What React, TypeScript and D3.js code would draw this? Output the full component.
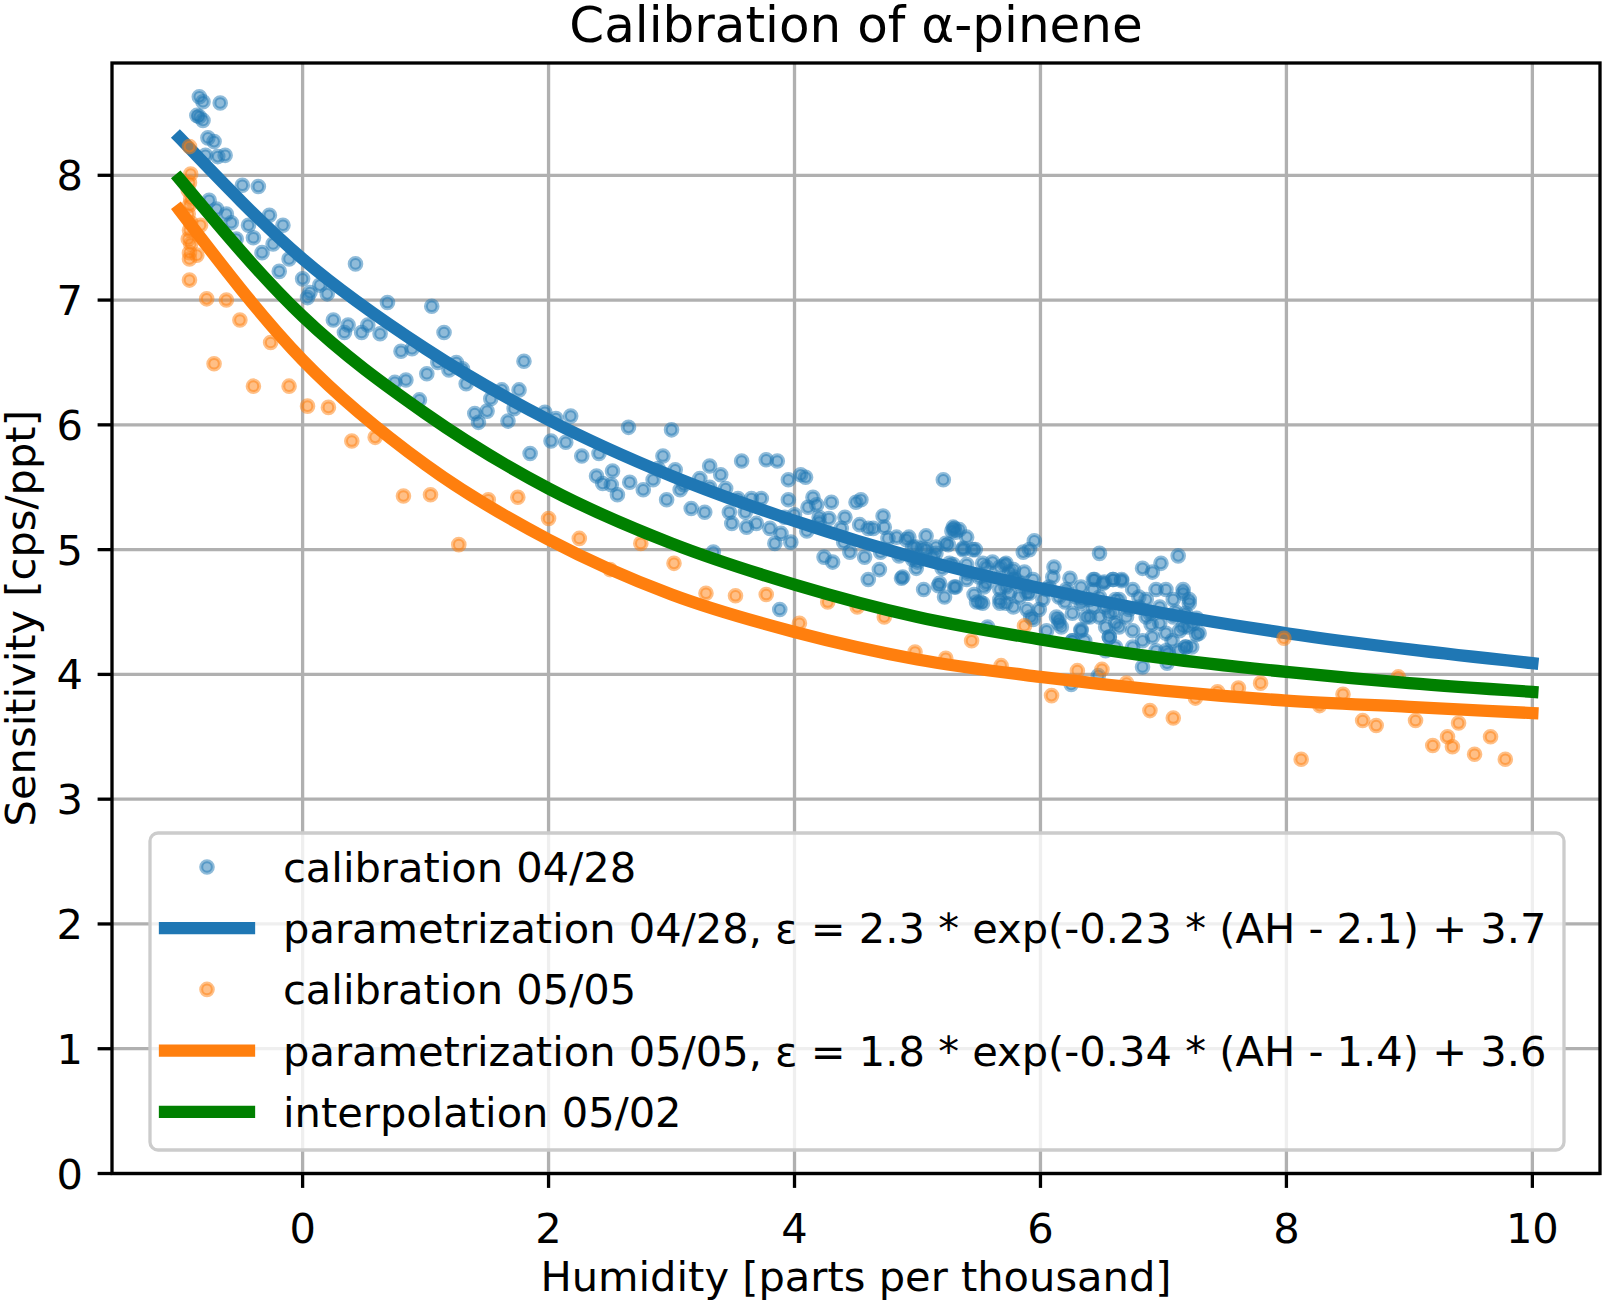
import React from 'react';
import * as d3 from 'd3';

// calibration 04/28: [humidity, sensitivity]
const cal0428: [number, number][] = [
  [-0.84, 8.63], [-0.81, 8.59], [-0.67, 8.58], [-0.86, 8.48], [-0.84, 8.47], [-0.81, 8.44],
  [-0.77, 8.3], [-0.72, 8.27], [-0.79, 8.16], [-0.69, 8.15], [-0.63, 8.16], [-0.49, 7.92],
  [-0.36, 7.91], [-0.76, 7.8], [-0.7, 7.73], [-0.62, 7.69], [-0.58, 7.62], [-0.44, 7.6],
  [-0.27, 7.68], [-0.16, 7.6], [-0.54, 7.49], [-0.4, 7.5], [-0.24, 7.45], [-0.33, 7.38],
  [-0.11, 7.33], [-0.19, 7.23], [0.0, 7.17], [0.43, 7.29], [0.14, 7.12], [0.06, 7.06],
  [0.04, 7.02], [0.2, 7.05], [0.69, 6.98], [1.05, 6.95], [0.25, 6.84], [0.37, 6.8],
  [0.34, 6.74], [0.48, 6.74], [0.53, 6.8], [0.63, 6.73], [1.15, 6.74], [0.8, 6.59],
  [0.89, 6.61], [1.01, 6.41], [1.19, 6.44], [1.1, 6.5], [1.25, 6.5], [1.33, 6.33],
  [0.75, 6.34], [0.84, 6.36], [0.95, 6.2], [1.4, 6.09], [1.43, 6.02], [1.5, 6.11],
  [1.53, 6.21], [1.62, 6.28], [1.76, 6.28], [1.8, 6.51], [1.67, 6.03], [1.72, 6.13],
  [1.85, 5.77], [1.97, 6.1], [2.02, 5.87], [2.06, 6.05], [1.3, 6.45],
  [2.18, 6.07], [2.65, 5.98], [2.14, 5.86], [2.27, 5.75], [2.39, 5.59], [2.44, 5.53],
  [2.52, 5.63], [2.51, 5.52], [2.56, 5.44], [2.66, 5.54], [2.77, 5.48], [2.41, 5.77],
  [3.0, 5.96], [2.85, 5.56], [2.93, 5.75], [2.89, 5.65], [3.03, 5.64], [2.96, 5.4],
  [3.07, 5.48], [3.16, 5.33], [3.27, 5.3], [3.23, 5.57], [3.31, 5.67], [3.4, 5.6],
  [3.31, 5.5], [3.44, 5.49], [3.34, 4.98], [3.54, 5.41], [3.47, 5.3], [3.49, 5.21],
  [3.61, 5.18], [3.57, 5.71], [3.77, 5.72], [3.86, 5.71], [3.65, 5.41], [3.73, 5.41],
  [3.69, 5.21], [3.8, 5.17], [3.84, 5.05], [3.95, 5.4], [3.95, 5.56], [3.92, 5.26],
  [3.89, 5.13], [3.97, 5.06], [4.0, 5.28], [4.05, 5.6], [4.09, 5.58], [3.88, 4.52],
  [4.15, 5.42], [4.11, 5.34], [4.18, 5.36], [4.3, 5.38], [4.2, 5.26], [4.28, 5.25],
  [4.2, 5.22], [4.24, 4.94], [4.31, 4.9], [4.41, 5.26], [4.38, 5.17], [4.45, 4.98],
  [4.5, 5.38], [4.54, 5.4], [4.53, 5.2], [4.6, 5.17], [4.57, 4.94], [4.6, 4.76],
  [4.64, 5.17], [4.72, 5.27], [4.73, 5.18], [4.69, 4.84], [4.76, 5.09], [4.83, 5.1],
  [4.87, 4.77], [4.93, 5.1], [4.96, 5.02], [4.99, 4.85], [5.07, 5.11], [5.05, 4.68],
  [5.04, 5.01], [5.15, 4.97], [5.21, 5.56], [5.17, 4.71], [5.22, 4.62], [5.25, 5.04],
  [5.29, 5.18], [5.31, 5.14], [5.29, 4.88], [5.31, 4.7], [5.4, 5.1], [5.37, 5.01],
  [5.45, 5.0], [5.41, 4.81], [5.46, 4.64], [5.48, 4.58], [5.56, 4.86], [5.54, 4.7],
  [5.3, 5.17], [5.28, 5.15], [5.34, 5.16], [4.88, 4.78], [5.47, 5.0], [5.51, 4.58],
  [5.67, 4.57], [5.57, 4.38], [5.72, 4.89], [5.86, 4.98], [5.91, 5.0], [5.95, 5.07],
  [5.87, 4.82], [5.79, 4.76], [5.91, 4.65], [5.99, 4.52], [5.92, 4.46], [6.11, 4.86],
  [6.1, 4.78], [6.15, 4.62], [6.13, 4.46], [6.24, 4.77], [6.33, 4.7], [6.26, 4.27],
  [6.48, 4.97], [6.43, 4.76], [6.51, 4.73], [6.59, 4.76], [6.66, 4.76], [6.4, 4.6],
  [6.48, 4.46], [6.56, 4.3], [6.33, 4.35], [6.75, 4.68], [6.83, 4.85], [6.98, 4.89],
  [7.12, 4.95], [6.91, 4.82], [7.02, 4.68], [7.16, 4.65], [7.21, 4.57], [6.83, 4.06],
  [7.03, 4.09], [7.18, 4.22], [6.47, 3.99], [6.25, 3.92],
  [4.91, 5.08], [4.99, 5.02], [5.07, 5.0], [5.15, 5.02], [5.23, 5.05], [5.37, 5.0],
  [4.96, 4.92], [5.12, 4.94], [5.26, 4.89], [5.4, 4.88], [5.53, 4.89], [5.61, 4.9],
  [5.67, 4.86], [5.78, 4.84], [5.18, 4.73], [5.3, 4.7], [5.4, 4.76], [5.56, 4.73],
  [5.67, 4.68], [5.75, 4.65], [5.83, 4.62], [5.53, 4.57], [5.78, 4.54], [5.89, 4.52],
  [6.05, 4.68], [6.22, 4.65], [6.33, 4.57], [6.26, 4.49], [6.37, 4.46], [6.53, 4.54],
  [6.64, 4.6], [6.72, 4.52], [6.61, 4.41], [6.75, 4.35], [6.86, 4.46], [6.97, 4.54],
  [7.08, 4.46], [7.13, 4.35], [6.91, 4.3], [6.75, 4.22], [7.02, 4.19], [6.53, 4.19],
  [6.15, 4.41], [6.05, 4.35], [7.18, 4.46], [6.8, 4.62], [6.43, 4.68],
  [5.71, 4.88], [5.75, 4.82], [6.44, 4.76], [6.52, 4.74], [6.59, 4.76], [6.66, 4.75],
  [5.67, 4.6], [5.72, 4.57], [5.94, 4.44], [6.15, 4.44], [6.17, 4.38], [6.33, 4.36],
  [6.36, 4.27], [6.26, 4.27], [6.56, 4.3], [6.61, 4.22], [7.16, 4.68], [7.21, 4.6],
  [7.27, 4.32], [7.23, 4.22], [6.8, 4.54], [6.89, 4.49], [6.97, 4.41], [7.02, 4.33],
  [7.07, 4.27], [7.16, 4.38], [7.13, 4.19], [6.7, 4.46], [6.61, 4.6], [6.48, 4.62],
  [6.43, 4.54], [6.34, 4.6], [6.29, 4.62], [6.21, 4.68], [6.07, 4.7], [6.02, 4.6],
  [5.89, 4.65], [5.83, 4.73], [5.78, 4.78], [5.72, 4.7], [5.94, 4.76], [6.56, 4.49],
  [6.83, 4.27], [6.94, 4.19], [7.04, 4.17], [7.18, 4.49], [7.08, 4.6], [6.94, 4.68],
  [6.86, 4.6], [7.18, 4.22], [7.24, 4.41], [7.29, 4.33], [6.64, 4.38], [6.53, 4.38],
  [6.4, 4.46], [7.27, 4.45],
  [3.1, 5.52], [3.6, 5.3], [4.1, 5.15], [4.4, 5.06], [4.7, 4.98], [4.85, 4.95],
  [5.0, 4.9], [5.2, 4.85], [5.5, 4.78], [5.9, 4.7], [6.2, 4.58], [6.6, 4.5],
  [6.9, 4.4], [7.1, 4.5], [7.2, 4.38],
];

// calibration 05/05: [humidity, sensitivity]
const cal0505: [number, number][] = [
  [-0.92, 8.23], [-0.91, 8.01], [-0.92, 7.94], [-0.93, 7.88], [-0.91, 7.81], [-0.92, 7.76],
  [-0.93, 7.69], [-0.91, 7.62], [-0.92, 7.56], [-0.93, 7.49], [-0.91, 7.45], [-0.92, 7.38],
  [-0.92, 7.33], [-0.83, 7.6], [-0.86, 7.36], [-0.92, 7.16], [-0.78, 7.01], [-0.62, 7.0],
  [-0.51, 6.84], [-0.26, 6.66], [-0.72, 6.49], [-0.4, 6.31], [-0.11, 6.31], [0.04, 6.15],
  [0.21, 6.14], [0.4, 5.87], [0.59, 5.9],
  [0.82, 5.43], [1.04, 5.44], [1.51, 5.4], [1.75, 5.42], [2.0, 5.25], [2.25, 5.09],
  [1.27, 5.04], [2.75, 5.05], [2.5, 4.84],
  [3.02, 4.89], [3.28, 4.65], [3.52, 4.63], [3.77, 4.64], [4.04, 4.41], [4.27, 4.58],
  [4.51, 4.54], [4.73, 4.46],
  [5.87, 4.39], [5.44, 4.27], [4.98, 4.18], [5.23, 4.13], [5.68, 4.07], [6.3, 4.03],
  [6.5, 4.04], [6.09, 3.83], [6.7, 3.93],
  [7.98, 4.29], [6.89, 3.71], [7.08, 3.65], [7.26, 3.81], [7.44, 3.86], [7.61, 3.89],
  [7.79, 3.93], [8.12, 3.32], [8.27, 3.75], [8.46, 3.84], [8.62, 3.63], [8.73, 3.59],
  [8.91, 3.98], [9.05, 3.63], [9.19, 3.43], [9.31, 3.5], [9.35, 3.42], [9.4, 3.61],
  [9.53, 3.36], [9.66, 3.5], [9.78, 3.32],
];

// fitted / interpolated curves, sampled along humidity
const curveX = [-1, 0, 1, 2, 3, 4, 5, 6, 7, 8, 9, 10];
const fit0428 = [8.3, 7.33, 6.61, 6.04, 5.59, 5.23, 4.93, 4.69, 4.49, 4.33, 4.2, 4.09];
const fit0505 = [7.72, 6.52, 5.68, 5.08, 4.64, 4.34, 4.12, 3.98, 3.87, 3.79, 3.74, 3.69];
const interp0502 = [7.97, 6.87, 6.09, 5.49, 5.05, 4.72, 4.46, 4.28, 4.13, 4.02, 3.93, 3.86];

const xTicks = [0, 2, 4, 6, 8, 10];
const yTicks = [0, 1, 2, 3, 4, 5, 6, 7, 8];

const legendItems = [
  { kind: 'dot', color: '#1f77b4', label: 'calibration 04/28' },
  { kind: 'line', color: '#1f77b4', label: 'parametrization 04/28, ε = 2.3 * exp(-0.23 * (AH - 2.1) + 3.7' },
  { kind: 'dot', color: '#ff7f0e', label: 'calibration 05/05' },
  { kind: 'line', color: '#ff7f0e', label: 'parametrization 05/05, ε = 1.8 * exp(-0.34 * (AH - 1.4) + 3.6' },
  { kind: 'line', color: 'green', label: 'interpolation 05/02' },
];

const W = 1603;
const H = 1300;
const left = 112;
const right = 1600;
const top = 63;
const bottom = 1173.5;

const Dot = ({ cx, cy, color }: { cx: number; cy: number; color: string }) => (
  <circle
    cx={cx}
    cy={cy}
    r={5.8}
    fill={color}
    fillOpacity={0.5}
    stroke={color}
    strokeOpacity={0.5}
    strokeWidth={4}
  />
);

export default function App() {
  const x = d3.scaleLinear().domain([-1.55, 10.55]).range([left, right]);
  const y = d3.scaleLinear().domain([0, 8.9]).range([bottom, top]);

  const line = (vals: number[]) =>
    d3
      .line<number>()
      .x((_, i) => x(curveX[i]))
      .y(d => y(d))
      .curve(d3.curveMonotoneX)(vals) || '';

  const fs = 41.6;
  const gridColor = '#b0b0b0';

  return (
    <svg
      width={W}
      height={H}
      style={{ position: 'absolute', left: 0, top: 0, background: '#fff' }}
      fontFamily="DejaVu Sans"
    >
      <rect x={0} y={0} width={W} height={H} fill="#fff" />

      {/* grid */}
      {xTicks.map(t => (
        <line key={'gx' + t} x1={x(t)} x2={x(t)} y1={top} y2={bottom} stroke={gridColor} strokeWidth={3.3} />
      ))}
      {yTicks.map(t => (
        <line key={'gy' + t} x1={left} x2={right} y1={y(t)} y2={y(t)} stroke={gridColor} strokeWidth={3.3} />
      ))}

      {/* data */}
      <g>
        {cal0428.map((d, i) => (
          <Dot key={'b' + i} cx={x(d[0])} cy={y(d[1])} color="#1f77b4" />
        ))}
      </g>
      <path d={line(fit0428)} fill="none" stroke="#1f77b4" strokeWidth={12.3} strokeLinecap="square" />
      <g>
        {cal0505.map((d, i) => (
          <Dot key={'o' + i} cx={x(d[0])} cy={y(d[1])} color="#ff7f0e" />
        ))}
      </g>
      <path d={line(fit0505)} fill="none" stroke="#ff7f0e" strokeWidth={12.3} strokeLinecap="square" />
      <path d={line(interp0502)} fill="none" stroke="green" strokeWidth={12.3} strokeLinecap="square" />

      {/* spines */}
      <rect x={left} y={top} width={right - left} height={bottom - top} fill="none" stroke="#000" strokeWidth={3.3} strokeLinejoin="miter" />

      {/* x ticks */}
      {xTicks.map(t => (
        <g key={'xt' + t}>
          <line x1={x(t)} x2={x(t)} y1={bottom} y2={bottom + 14.4} stroke="#000" strokeWidth={3.3} />
          <text x={x(t)} y={1243} fontSize={fs} textAnchor="middle" fill="#000">
            {t}
          </text>
        </g>
      ))}
      {/* y ticks */}
      {yTicks.map(t => (
        <g key={'yt' + t}>
          <line x1={left - 14.4} x2={left} y1={y(t)} y2={y(t)} stroke="#000" strokeWidth={3.3} />
          <text x={83} y={y(t) + 15} fontSize={fs} textAnchor="end" fill="#000">
            {t}
          </text>
        </g>
      ))}

      {/* labels */}
      <text x={(left + right) / 2} y={42} fontSize={50} textAnchor="middle" fill="#000">
        Calibration of α-pinene
      </text>
      <text x={(left + right) / 2} y={1291} fontSize={fs} textAnchor="middle" fill="#000">
        Humidity [parts per thousand]
      </text>
      <text transform={`translate(35, ${(top + bottom) / 2}) rotate(-90)`} fontSize={fs} textAnchor="middle" fill="#000">
        Sensitivity [cps/ppt]
      </text>

      {/* legend */}
      <rect x={150} y={833} width={1414} height={317} rx={8} ry={8} fill="#fff" fillOpacity={0.8} stroke="#cccccc" strokeWidth={3.3} />
      {legendItems.map((it, i) => {
        const cy = 867 + i * 61.2;
        return (
          <g key={'lg' + i}>
            {it.kind === 'dot' ? (
              <Dot cx={207} cy={cy} color={it.color} />
            ) : (
              <line x1={165} x2={249} y1={cy} y2={cy} stroke={it.color} strokeWidth={12.3} strokeLinecap="square" />
            )}
            <text x={283} y={cy + 15} fontSize={fs} fill="#000">
              {it.label}
            </text>
          </g>
        );
      })}
    </svg>
  );
}
